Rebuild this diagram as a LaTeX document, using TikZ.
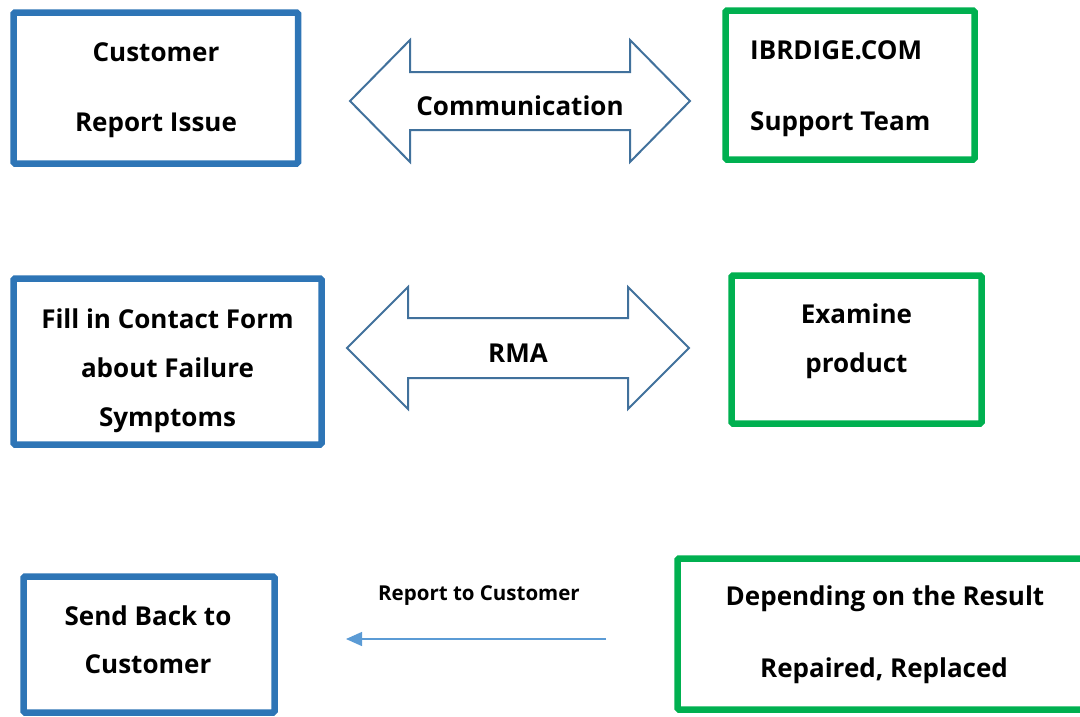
\documentclass[tikz,border=0pt]{standalone}
\usepackage{fontspec}
\setmainfont{Open Sans}
\usetikzlibrary{arrows.meta}
\definecolor{boxblue}{HTML}{2E75B6}
\definecolor{boxgreen}{HTML}{00B050}
\definecolor{arrowline}{HTML}{41719C}
\definecolor{linkblue}{HTML}{5B9BD5}
\begin{document}
\begin{tikzpicture}[x=1pt,y=-1pt,
  bluebox/.style={draw=boxblue,line width=6.5pt,rounded corners=1.5pt},
  greenbox/.style={draw=boxgreen,line width=6.5pt,rounded corners=1.5pt},
  txt/.style={anchor=base,inner sep=0pt,font=\fontsize{26}{30}\selectfont\bfseries},
  txtl/.style={txt,anchor=base west},
  small/.style={anchor=base,inner sep=0pt,font=\fontsize{20.5}{24}\selectfont\bfseries},
  fatarrow/.style={draw=arrowline,line width=2pt,line join=miter,fill=white}]
\useasboundingbox (0,0) rectangle (1080,716);
\clip (0,0) rectangle (1080,716);

% ---- row 1 ----
\draw[bluebox] (13.5,12.5) rectangle (298,163.5);
\node[txt] (cust) at (156,61.7) {Customer};
\node[txt] (report) at (156,131.5) {Report Issue};

\draw[greenbox] (725.5,10.5) rectangle (974.5,159.5);
\node[txtl] (ibr) at (750,59) {IBRDIGE.COM};
\node[txtl] (team) at (750,130) {Support Team};

\coordinate (a1) at (350,101);
\draw[fatarrow] (a1) -- (410,40) -- (410,72) -- (630,72) -- (630,40) -- (690,101)
  -- (630,162) -- (630,130) -- (410,130) -- (410,162) -- cycle;
\node[txt] (comm) at (520,115) {Communication};

% ---- row 2 ----
\draw[bluebox] (13.5,278.5) rectangle (321.5,444.5);
\node[txt] (fill) at (167.5,328) {Fill in Contact Form};
\node[txt] (about) at (167.5,377) {about Failure};
\node[txt] (sympt) at (167.5,426) {Symptoms};

\draw[greenbox] (731.5,275.5) rectangle (981.5,423.5);
\node[txt] (exam) at (856.5,323) {Examine};
\node[txt] (prod) at (856.5,372) {product};

\coordinate (a2) at (347,348);
\draw[fatarrow] (a2) -- (408,287) -- (408,318) -- (628,318) -- (628,287) -- (689,348)
  -- (628,409) -- (628,378) -- (408,378) -- (408,409) -- cycle;
\node[txt] (rma) at (518,362) {RMA};

% ---- row 3 ----
\draw[bluebox] (23.5,576.5) rectangle (274.5,712.5);
\node[txt] (send) at (148,625) {Send Back to};
\node[txt] (cust2) at (148,673) {Customer};

\draw[greenbox] (677.5,558.5) rectangle (1095,709.5);
\node[txt] (dep) at (885,605) {Depending on the Result};
\node[txt] (rep) at (884,677) {Repaired, Replaced};

\coordinate (from) at (606,639);
\coordinate (to) at (346,639);
\draw[linkblue,line width=1.3pt,-{Triangle[length=16pt,width=14pt]}] (from) -- (to);
\node[small] (rtc) at (479,600) {Report to Customer};
\end{tikzpicture}
\end{document}
